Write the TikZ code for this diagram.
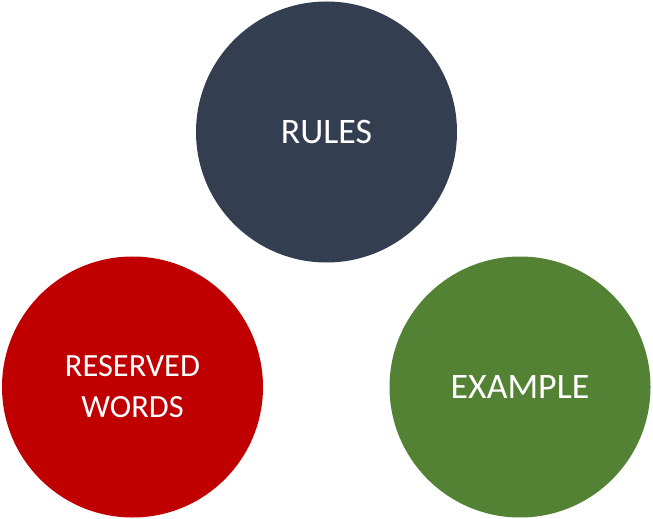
\documentclass[tikz,border=0pt]{standalone}
\usepackage{xcolor}
\usepackage{fontspec}
\setmainfont{Carlito}
\usepackage{tikz}
\usetikzlibrary{positioning}
\definecolor{cRules}{HTML}{333F50}
\definecolor{cWords}{HTML}{C00000}
\definecolor{cExmpl}{HTML}{548235}
\tikzset{
  blob/.style={circle, draw=none, fill=#1, text=white, align=center,
               minimum size=261bp, inner sep=0pt,
               font=\fontsize{36}{41}\selectfont},
  rules/.style={blob=cRules},
  words/.style={blob=cWords, font=\fontsize{32.5}{41}\selectfont},
  exmpl/.style={blob=cExmpl},
}
\begin{document}
\begin{tikzpicture}[x=1bp, y=-1bp]
  \useasboundingbox (0,0) rectangle (653,519);
  \node[rules] (rules) at (326.5,132) {RULES};
  \node[words] (words) at (132.5,387) {RESERVED\\WORDS};
  \node[exmpl] (exmpl) at (520,387) {EXAMPLE};
\end{tikzpicture}
\end{document}
